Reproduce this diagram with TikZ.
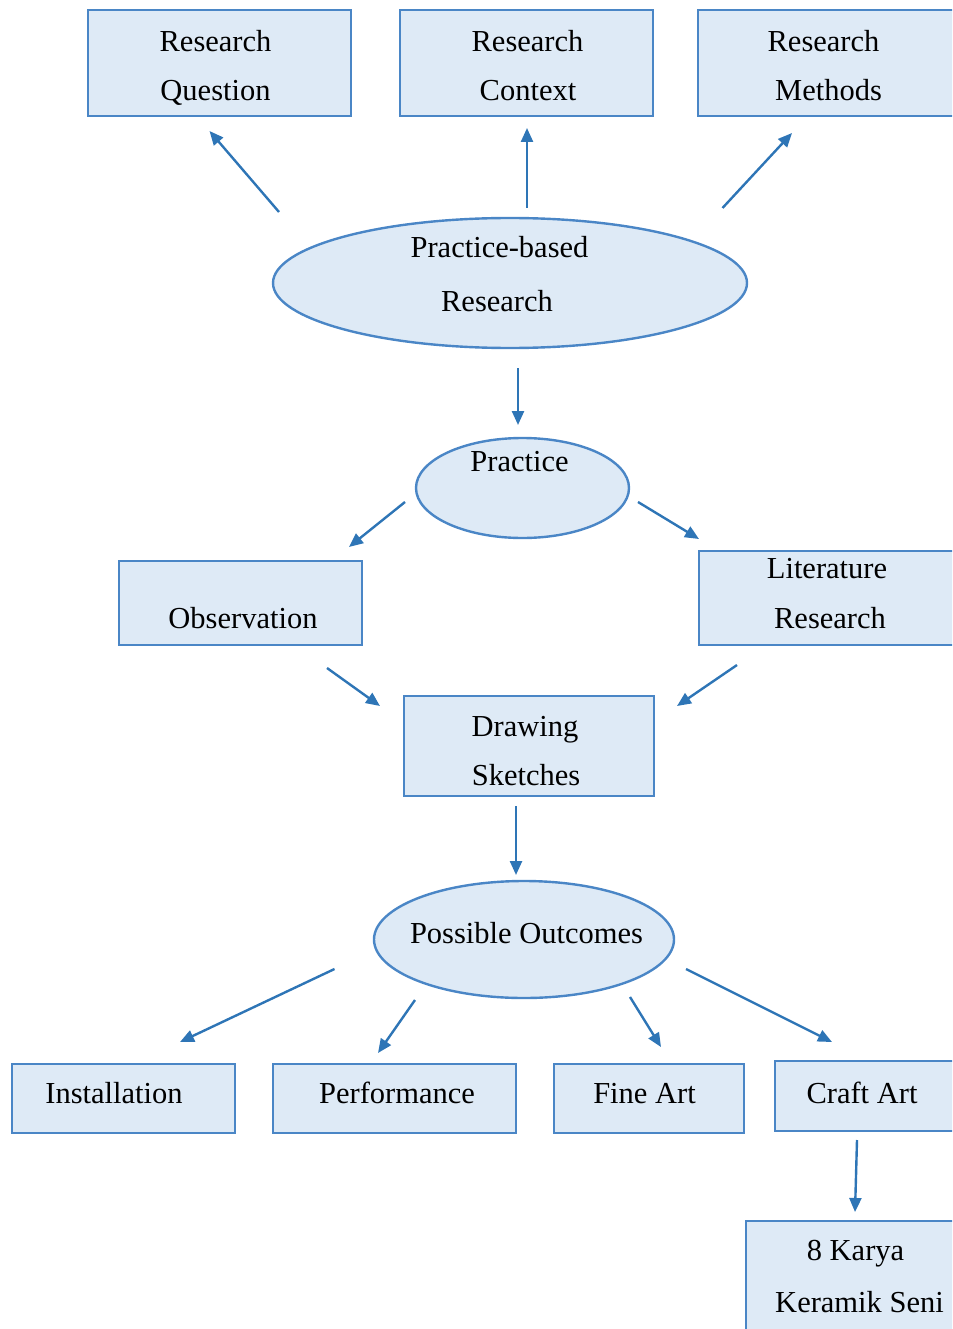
\documentclass[tikz,border=0pt]{standalone}
\usepackage{fontspec}
\setmainfont{Liberation Serif}
\usetikzlibrary{arrows.meta,shapes.geometric}
\definecolor{boxfill}{HTML}{DEEAF6}
\definecolor{boxline}{HTML}{4A86C6}
\definecolor{arrowc}{HTML}{2E75B6}
\begin{document}
\begin{tikzpicture}[x=1pt,y=-1pt,
  boxst/.style={draw=boxline, fill=boxfill, line width=2.6pt, inner sep=0pt, rectangle},
  ellst/.style={draw=boxline, fill=boxfill, line width=2.4pt, inner sep=0pt, ellipse},
  txt/.style={anchor=base, inner sep=0pt, text=black, font=\fontsize{30.5}{36}\selectfont},
  arr/.style={draw=arrowc, line width=2.4pt, -{Triangle[length=14pt,width=12pt]}}]
\useasboundingbox (0,0) rectangle (952,1329);
\clip (0,0) rectangle (952,1329);

% shapes
\node[boxst, minimum width=263pt, minimum height=106pt] (rq) at (219.5,63) {};
\node[boxst, minimum width=253pt, minimum height=106pt] (rc) at (526.5,63) {};
\node[boxst, minimum width=292pt, minimum height=106pt] (rm) at (844,63) {};
\node[ellst, minimum width=474pt, minimum height=130pt] (pbr) at (510,283) {};
\node[ellst, minimum width=213pt, minimum height=100pt] (prac) at (522.5,488) {};
\node[boxst, minimum width=243pt, minimum height=84pt] (obs) at (240.5,603) {};
\node[boxst, minimum width=291pt, minimum height=94pt] (lit) at (844.5,598) {};
\node[boxst, minimum width=250pt, minimum height=100pt] (ds) at (529,746) {};
\node[ellst, minimum width=300pt, minimum height=117pt] (po) at (524,939.5) {};
\node[boxst, minimum width=223pt, minimum height=69pt] (inst) at (123.5,1098.5) {};
\node[boxst, minimum width=243pt, minimum height=69pt] (perf) at (394.5,1098.5) {};
\node[boxst, minimum width=190pt, minimum height=69pt] (fine) at (649,1098.5) {};
\node[boxst, minimum width=215pt, minimum height=70pt] (craft) at (882.5,1096) {};
\node[boxst, minimum width=244pt, minimum height=159pt] (karya) at (868,1300.5) {};

% texts
\node[txt] (rqA) at (215.5,52) {Research};
\node[txt] (rqB) at (215.5,101) {Question};
\node[txt] (rcA) at (527.5,52) {Research};
\node[txt] (rcB) at (528,101) {Context};
\node[txt] (rmA) at (823.5,52) {Research};
\node[txt] (rmB) at (828.5,101) {Methods};
\node[txt] (pbrA) at (499.5,258) {Practice-based};
\node[txt] (pbrB) at (497,311) {Research};
\node[txt] (pracA) at (519.5,471) {Practice};
\node[txt] (obsA) at (243,628) {Observation};
\node[txt] (litA) at (827,578) {Literature};
\node[txt] (litB) at (830,628) {Research};
\node[txt] (dsA) at (525,736) {Drawing};
\node[txt] (dsB) at (526,785) {Sketches};
\node[txt] (poA) at (526.5,943) {Possible Outcomes};
\node[txt] (instA) at (114,1103) {Installation};
\node[txt] (perfA) at (397,1103) {Performance};
\node[txt] (fineA) at (644.5,1103) {Fine Art};
\node[txt] (craftA) at (862,1103) {Craft Art};
\node[txt] (karyaA) at (855.5,1260) {8 Karya};
\node[txt] (karyaB) at (859.5,1312) {Keramik Seni};

% arrow end points
\coordinate (a1s) at (279,212);   \coordinate (a1e) at (209.5,131);
\coordinate (a2s) at (527,208);   \coordinate (a2e) at (527,128);
\coordinate (a3s) at (722.5,208); \coordinate (a3e) at (792,133);
\coordinate (a4s) at (518,368);   \coordinate (a4e) at (518,425);
\coordinate (a5s) at (405,502);   \coordinate (a5e) at (349,547);
\coordinate (a6s) at (638,502);   \coordinate (a6e) at (699,539);
\coordinate (a7s) at (327,668);   \coordinate (a7e) at (380,706);
\coordinate (a8s) at (737,665);   \coordinate (a8e) at (677,706);
\coordinate (a9s) at (516,806);   \coordinate (a9e) at (516,875);
\coordinate (a10s) at (334.5,969); \coordinate (a10e) at (180,1042);
\coordinate (a11s) at (415,1000); \coordinate (a11e) at (378,1053);
\coordinate (a12s) at (630,997);  \coordinate (a12e) at (661,1047);
\coordinate (a13s) at (686,969);  \coordinate (a13e) at (832,1042);
\coordinate (a14s) at (857,1140); \coordinate (a14e) at (855,1212);

\foreach \i in {1,...,14} { \draw[arr] (a\i s) -- (a\i e); }
\end{tikzpicture}
\end{document}
